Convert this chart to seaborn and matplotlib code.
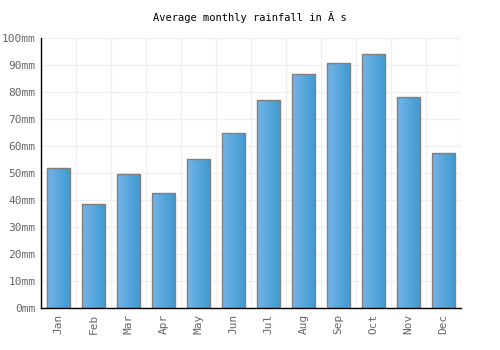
import matplotlib
matplotlib.use('Agg')
import matplotlib.pyplot as plt
import seaborn as sns
import numpy as np
import pandas as pd

# monthly rainfall values
months = ['Jan', 'Feb', 'Mar', 'Apr', 'May', 'Jun', 'Jul', 'Aug', 'Sep', 'Oct', 'Nov', 'Dec']
rainfall = [51.8, 38.5, 49.6, 42.6, 55.1, 64.8, 76.9, 86.6, 90.6, 94.0, 78.0, 57.3]
y_ticks = [0, 10, 20, 30, 40, 50, 60, 70, 80, 90, 100]
title = 'Average monthly rainfall in Ã s'

df = pd.DataFrame({'month': months, 'rain': rainfall})

sns.set_style('white')
plt.rcParams['font.family'] = ['DejaVu Sans Mono', 'DejaVu Sans']

fig = plt.figure(figsize=(5, 3.5), dpi=100)
ax = fig.add_axes([0.082, 0.12, 0.84, 0.7714])

sns.barplot(data=df, x='month', y='rain', ax=ax, width=0.66,
            color='#4fa3dc', edgecolor='#808080', linewidth=1, zorder=3)

# horizontal gradient inside every bar
grad = np.linspace(0, 1, 64).reshape(1, -1)
cmap = matplotlib.colors.LinearSegmentedColormap.from_list('g', ['#74b4e8', '#3d9ad0'])
for p in ax.patches:
    x0, y0 = p.get_x(), p.get_y()
    w, h = p.get_width(), p.get_height()
    im = ax.imshow(grad, cmap=cmap, aspect='auto', extent=[x0, x0 + w, y0, y0 + h],
                   zorder=3.5, interpolation='bilinear')
    im.set_clip_path(p)
    p.set_facecolor('none')
    p.set_zorder(4)

ax.set_xlim(-0.5, 11.5)
ax.set_ylim(0, 100)
ax.set_yticks(y_ticks)
ax.set_yticklabels([f'{v}mm' for v in y_ticks])
ax.set_xticks(range(len(months)))
ax.set_xticklabels(months, rotation=90)
ax.set_xticks(np.arange(-0.5, 12, 1), minor=True)
ax.grid(False)
ax.grid(axis='y', which='major', color='#f0f0f0', linewidth=1, zorder=0)
ax.grid(axis='x', which='minor', color='#f0f0f0', linewidth=1, zorder=0)
ax.tick_params(axis='both', which='both', length=0, labelsize=8, labelcolor='#666666', pad=4)
ax.set_xlabel('')
ax.set_ylabel('')

for s in ['top', 'right']:
    ax.spines[s].set_visible(False)
for s in ['left', 'bottom']:
    ax.spines[s].set_color('black')
    ax.spines[s].set_linewidth(1.0)
    ax.spines[s].set_zorder(5)

fig.text(0.5, 0.95, title, ha='center', va='center', fontsize=7.5, color='black')

fig.savefig('out.png', dpi=100)
